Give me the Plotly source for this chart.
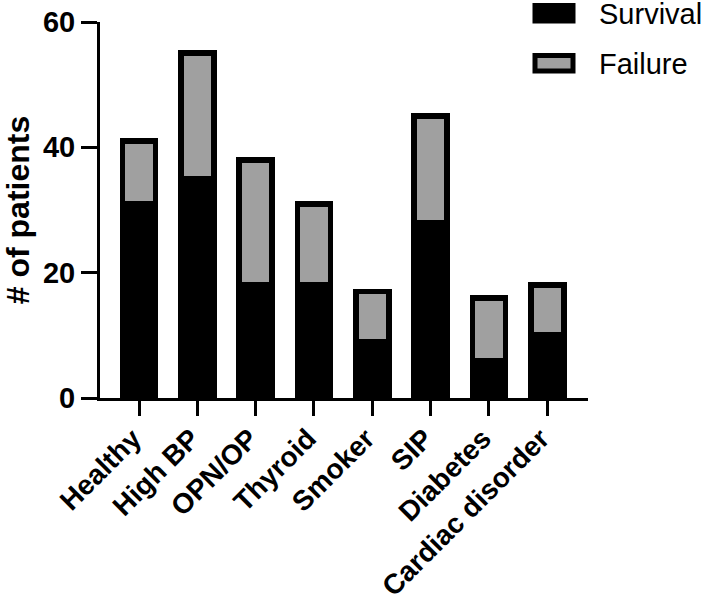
import plotly.graph_objects as go

categories = ["Healthy", "High BP", "OPN/OP", "Thyroid", "Smoker", "SIP", "Diabetes", "Cardiac disorder"]
survival = [31, 35, 18, 18, 9, 28, 6, 10]
failure = [10, 20, 20, 13, 8, 17, 10, 8]
y_ticks = [0, 20, 40, 60]

FONT = "Liberation Sans, Arial, sans-serif"
GREY = "#A0A0A0"

fig = go.Figure()
fig.add_trace(go.Bar(x=categories, y=survival, name="Survival",
                     marker=dict(color="black", line=dict(color="black", width=5.7)),
                     width=0.565))
fig.add_trace(go.Bar(x=categories, y=failure, name="Failure",
                     marker=dict(color=GREY, line=dict(color="black", width=5.7)),
                     width=0.565))

# legend drawn manually (large rectangular swatches), positions in paper units
PL, PW, PT, PH = 100, 488, 22, 376
def px_x(x):
    return (x - PL) / PW
def px_y(y):
    return 1 - (y - PT) / PH

legend_items = [("Survival", "black", 0.0), ("Failure", GREY, 50.0)]
shapes = []
annotations = []
for name, col, dy in legend_items:
    shapes.append(dict(type="rect", xref="paper", yref="paper",
                       x0=px_x(535), x1=px_x(573),
                       y0=px_y(21 + dy), y1=px_y(5.5 + dy),
                       fillcolor=col, line=dict(color="black", width=5)))
    annotations.append(dict(xref="paper", yref="paper",
                            x=px_x(597), y=px_y(14 + dy),
                            text=name, showarrow=False, xanchor="left", yanchor="middle",
                            font=dict(family=FONT, size=29, color="black")))

fig.update_layout(
    barmode="stack",
    width=709, height=597,
    margin=dict(l=PL, r=709 - PL - PW, t=PT, b=597 - PT - PH),
    plot_bgcolor="white", paper_bgcolor="white",
    showlegend=False,
    shapes=shapes,
    annotations=annotations,
    font=dict(family=FONT, color="black"),
)
fig.update_xaxes(
    range=[-0.67, 7.7],
    automargin=False,
    showline=True, linecolor="black", linewidth=3,
    ticks="outside", ticklen=15, tickwidth=3, tickcolor="black",
    tickangle=-45,
    ticklabelshift=-6, ticklabelstandoff=-5,
    tickfont=dict(family=FONT, size=28, color="black", weight="bold"),
    showgrid=False, zeroline=False,
)
fig.update_yaxes(
    range=[0, 60],
    automargin=False,
    tickvals=y_ticks,
    showline=True, linecolor="black", linewidth=3,
    ticks="outside", ticklen=16, tickwidth=3, tickcolor="black",
    tickfont=dict(family=FONT, size=29, color="black", weight="bold"),
    title=dict(text="# of patients", font=dict(family=FONT, size=32, color="black", weight="bold"), standoff=12),
    showgrid=False, zeroline=False,
)

fig.write_html("out.html", config={"displayModeBar": False},
               post_script="document.body.style.margin='0';")
